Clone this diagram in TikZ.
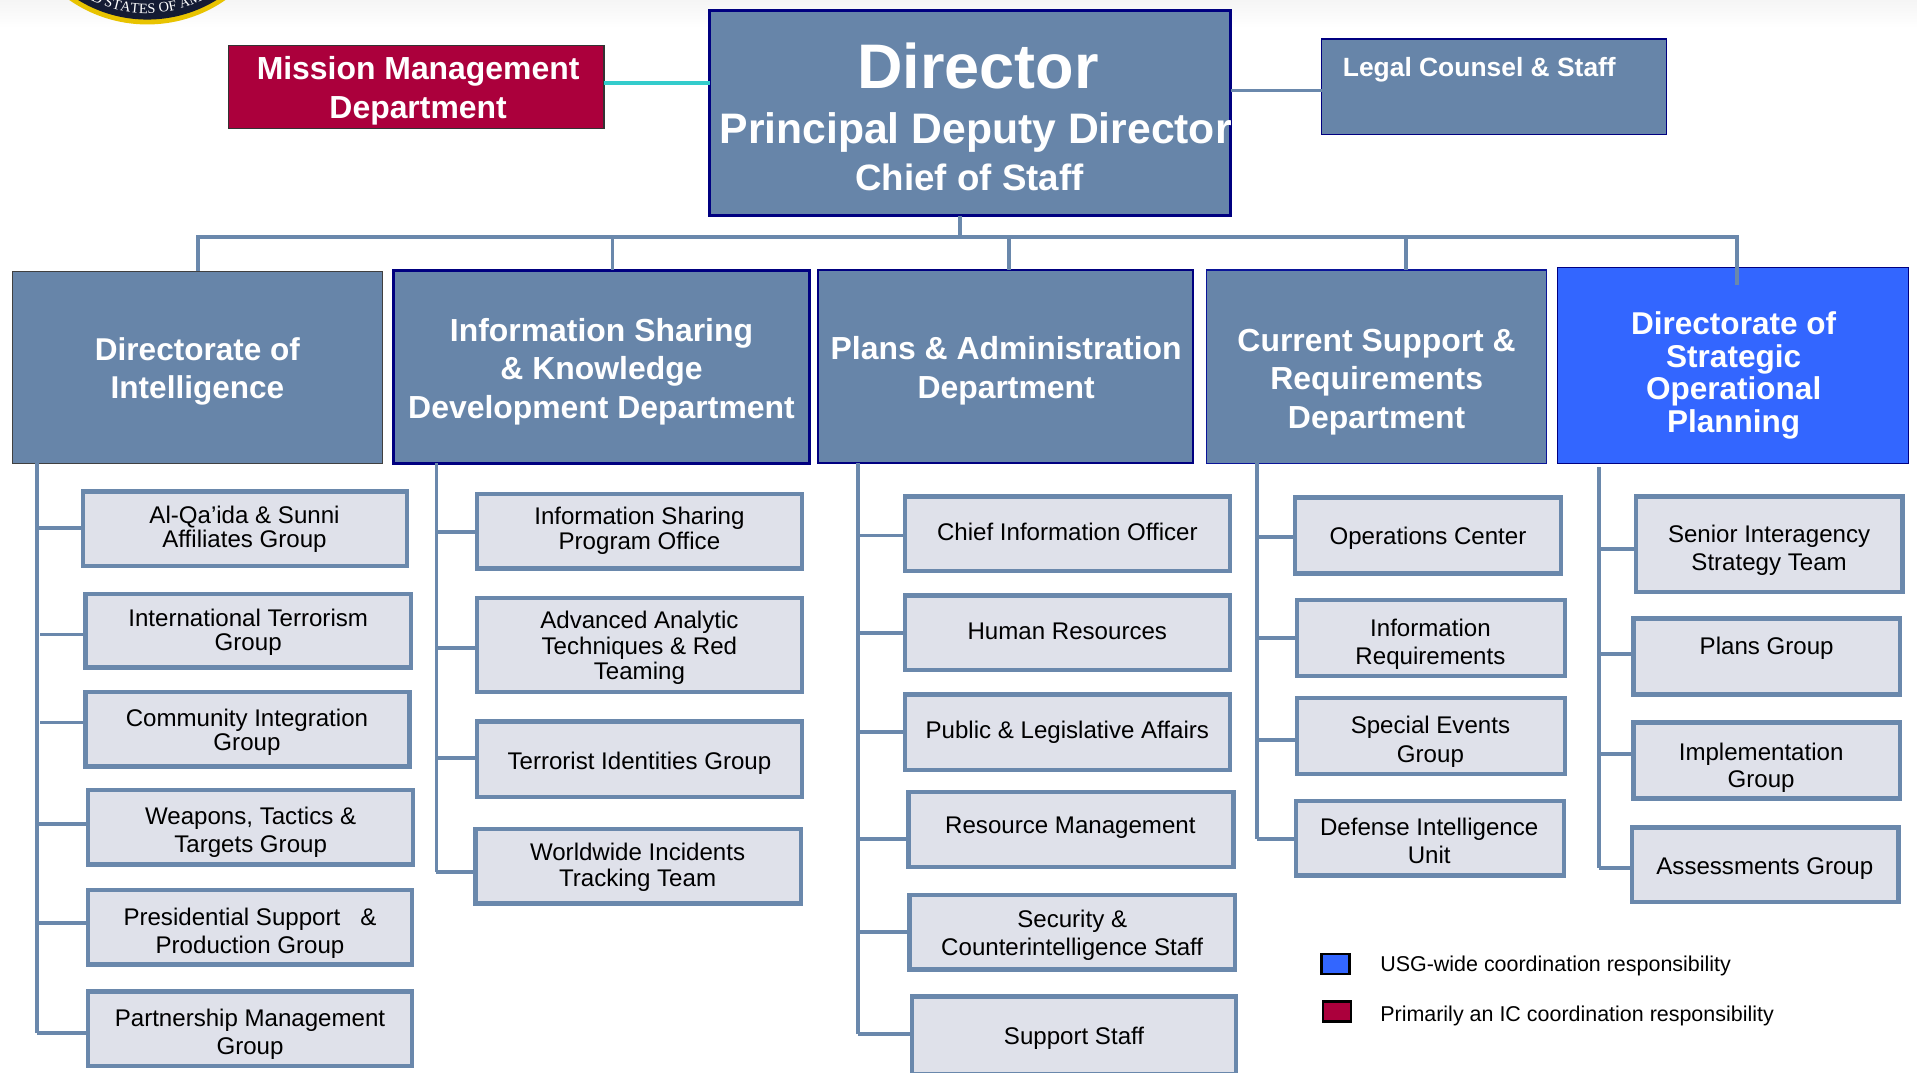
\documentclass[tikz,border=0pt]{standalone}
\usepackage{fontspec}
\setmainfont{Liberation Sans}
\newfontfamily\sealfont{Liberation Serif}
\usetikzlibrary{decorations.text}
\definecolor{steel}{HTML}{6785A9}
\definecolor{edge}{HTML}{6A88AC}
\definecolor{pale}{HTML}{DFE1EA}
\definecolor{navy}{HTML}{000080}
\definecolor{crim}{HTML}{AB003C}
\definecolor{brightblue}{HTML}{3366FF}
\definecolor{teal2}{HTML}{33CCCC}
\definecolor{gold}{HTML}{E8C300}
\definecolor{sealblue}{HTML}{141B33}
\newdimen\ftA \newdimen\ftB \newdimen\offd
\newcommand\ft[2]{\ftA=#1pt \ftA=0.6113\ftA \ftB=#2pt \ftB=0.6113\ftB \fontsize{\the\ftA}{\the\ftB}\selectfont}
% place text at an offset from the node centre, without changing the node's size
\newcommand\off[3]{\pgfmathsetlengthmacro\offx{2*(#1)*0.6113pt}\pgfmathsetlengthmacro\offy{(#2)*0.6113pt}%
  \setbox0=\hbox{#3}\offd=\dimexpr\offy-\ht0/2+\dp0/2\relax
  \makebox[0pt]{\hspace*{\offx}\raisebox{\offd}[0pt][0pt]{\box0}}}
\def\bxins{2}
\def\bx#1#2(#3,#4,#5,#6)(#7,#8)#9{%
  \node[#1,minimum width={(#5-#3-\bxins)*0.6113pt},minimum height={(#6-#4-\bxins)*0.6113pt}] (#2) at ({(#3+#5)/2},{(#4+#6)/2})
  {\off{#7-(#3+#5)/2}{(#4+#6)/2-#8-2.8}{\begin{tabular}{@{}c@{}}#9\end{tabular}}};}
\tikzset{
  base/.style={rectangle,inner sep=0pt,outer sep=0pt},
  subbox/.style={base,draw=edge,fill=pale,line width=2.2pt,text=black},
  subfont/.style={font=\ft{19.7}{#1}},
  headbox/.style={base,fill=steel,text=white},
  conn/.style={draw=edge,line width=1.9pt},
  legendbox/.style={base,draw=black,line width=1.2pt,minimum width=14pt,minimum height=10pt},
  legendtext/.style={base,anchor=west,text=black,font=\ft{17.55}{20}}
}
\begin{document}
\begin{tikzpicture}[x=0.6113pt,y=-0.6113pt]
\useasboundingbox (0,0) rectangle (1568,877.6);
\clip (0,0) rectangle (1568,877.6);
\shade[top color=black!4,bottom color=white] (0,0) rectangle (1568,23);
% seal
\coordinate (sealc) at (120.5,-92);
\fill[gold] (sealc) circle (112);
\fill[sealblue] (sealc) circle (108);
\path[decorate,decoration={text along path,text align=center,
  text={|\sealfont\fontsize{7.2}{8}\selectfont\color{white}|UNITED STATES OF AMERICA}}]
  (47.17,-19.17) arc[start angle=225,end angle=315,radius=62.97pt];
% top row
\def\bxins{0}
\node[headbox,draw=navy,line width=1.3pt,minimum width={426*0.6113pt},minimum height={168*0.6113pt}] (dir) at (793.5,92.5)
  {\off{6.5}{38.5}{\ft{51.5}{52}\bfseries Director}\off{4.5}{-16}{\ft{34.9}{34}\bfseries Principal Deputy Director}\off{-0.5}{-53}{\ft{30}{30}\bfseries Chief of Staff}};
\bx{base,fill=crim,draw=black!80,line width=0.6pt,text=white,font=\ft{26.1}{32}\bfseries}{mmd}(187,37,494,105)(342,72){Mission Management\\Department}
\bx{headbox,draw=navy,line width=0.7pt,font=\ft{21.6}{24}\bfseries}{legal}(1081,32,1363,110)(1210,55){Legal Counsel \& Staff}
% department row
\bx{headbox,draw=black!75,line width=0.7pt,font=\ft{25.8}{31}\bfseries}{di}(10,222,313,379)(161.5,301.5){Directorate of\\Intelligence}
\bx{headbox,draw=navy,line width=1.4pt,font=\ft{26.1}{31.5}\bfseries}{isk}(322,221,662,379)(492,301.5){Information Sharing\\\& Knowledge\\Development Department}
\bx{headbox,draw=navy,line width=1pt,font=\ft{26.1}{32}\bfseries}{pad}(669,221,976,379)(823,301){Plans \& Administration\\Department}
\bx{headbox,draw=navy!80!brightblue,line width=0.7pt,font=\ft{26.1}{31.5}\bfseries}{csr}(987,221,1265,379)(1126,309.5){Current Support \&\\Requirements\\Department}
\bx{base,fill=brightblue,draw=navy,line width=0.7pt,text=white,font=\ft{25.8}{26.8}\bfseries}{dsop}(1274,219,1561,379)(1418,305.5){Directorate of\\Strategic\\Operational\\Planning}
% sub boxes
\def\bxins{2}
\bx{subbox,subfont=20}{a1}(67,401,334,464)(200,431){Al-Qa’ida \& Sunni\\Affiliates Group}
\bx{subbox,subfont=19.5}{a2}(69,485,337,547)(203,515.5){International Terrorism\\Group}
\bx{subbox,subfont=20}{a3}(69,565,336,628)(202,597){Community Integration\\Group}
\bx{subbox,subfont=23}{a4}(71,645,339,708)(205,678.5){Weapons, Tactics \&\\Targets Group}
\bx{subbox,subfont=22.5}{a5}(71,727,338,790)(204.5,761){Presidential Support\ \ \ \&\\Production Group}
\bx{subbox,subfont=23}{a6}(71,810,338,873)(204.5,843.5){Partnership Management\\Group}
\bx{subbox,subfont=20}{b1}(389,403,657,466)(523,432){Information Sharing\\Program Office}
\bx{subbox,subfont=21}{b2}(389,488,657,567)(523,528){Advanced Analytic\\Techniques \& Red\\Teaming}
\bx{subbox,subfont=21}{b3}(389,589,657,653)(523,622){Terrorist Identities Group}
\bx{subbox,subfont=21}{b4}(388,677,656,740)(521.5,707.5){Worldwide Incidents\\Tracking Team}
\bx{subbox,subfont=21}{c1}(739,405,1007,468)(873,435){Chief Information Officer}
\bx{subbox,subfont=21}{c2}(739,486,1007,549)(873,516){Human Resources}
\bx{subbox,subfont=21}{c3}(739,567,1007,631)(873,597){Public \& Legislative Affairs}
\bx{subbox,subfont=21}{c4}(742,647,1010,710)(875.5,675){Resource Management}
\bx{subbox,subfont=23}{c5}(743,731,1011,794)(877,762.5){Security \&\\Counterintelligence Staff}
\bx{subbox,subfont=21}{c6}(745,814,1012,880)(878.5,847){Support Staff}
\bx{subbox,subfont=21}{d1}(1058,406,1278,470)(1168,438){Operations Center}
\bx{subbox,subfont=23}{d2}(1060,490,1281,554)(1170,524.5){Information\\Requirements}
\bx{subbox,subfont=24}{d3}(1060,570,1281,634)(1170,604){Special Events\\Group}
\bx{subbox,subfont=23}{d4}(1059,654,1280,717)(1169,687.5){Defense Intelligence\\Unit}
\bx{subbox,subfont=23}{e1}(1337,405,1557,485)(1447,447.5){Senior Interagency\\Strategy Team}
\bx{subbox,subfont=21}{e2}(1335,505,1555,569)(1445,528){Plans Group}
\bx{subbox,subfont=22}{e3}(1335,590,1555,654)(1440.5,626){Implementation\\Group}
\bx{subbox,subfont=21}{e4}(1334,676,1554,739)(1443.5,708){Assessments Group}
% legend
\node[legendbox,fill=brightblue] (lg1) at (1092.5,788.5) {};
\node[legendbox,fill=crim] (lg2) at (1093.5,827.5) {};
\node[legendtext] (lt1) at (1129,790) {USG-wide coordination responsibility};
\node[legendtext] (lt2) at (1129,831) {Primarily an IC coordination responsibility};
% connectors: director level
\draw[conn,draw=teal2] (mmd.east |- 0,68) -- (dir.west |- 0,68);
\draw[conn] (dir.east |- 0,74) -- (legal.west |- 0,74);
\coordinate (bus0) at (785,194);
\coordinate (bus1) at (162,194);
\coordinate (bus2) at (501,194);
\coordinate (bus3) at (825,194);
\coordinate (bus4) at (1150,194);
\coordinate (bus5) at (1421,194);
\coordinate (bus5end) at (1421,233);
\draw[conn] (dir.south -| bus0) -- (bus0);
\draw[conn] (bus1 |- di.north) -- (bus1) -- (bus5) -- (bus5end);
\draw[conn] (bus2) -- (bus2 |- isk.north);
\draw[conn] (bus3) -- (bus3 |- pad.north);
\draw[conn] (bus4) -- (bus4 |- csr.north);
% trunks
\coordinate (t1) at (30,845);
\coordinate (t2) at (357,713);
\coordinate (t3) at (702,846);
\coordinate (t4) at (1028,686);
\coordinate (t5) at (1308,710);
\draw[conn] (t1 |- di.south) -- (t1);
\draw[conn] (t2 |- isk.south) -- (t2);
\draw[conn] (t3 |- pad.south) -- (t3);
\draw[conn] (t4 |- csr.south) -- (t4);
\draw[conn] (1308,382) -- (t5);
% branches
\foreach \n/\y in {a1/432,a4/674,a5/755,a6/845}{\coordinate (p) at (30,\y); \draw[conn] (p) -- (p -| \n.west);}
\foreach \n/\y in {a2/519,a3/591}{\coordinate (p) at (33,\y); \draw[conn] (p) -- (p -| \n.west);}
\foreach \n/\y in {b1/435,b2/530,b3/620,b4/713}{\coordinate (p) at (357,\y); \draw[conn] (p) -- (p -| \n.west);}
\foreach \n/\y in {c1/438,c2/518,c3/599,c4/686,c5/762,c6/846}{\coordinate (p) at (702,\y); \draw[conn] (p) -- (p -| \n.west);}
\foreach \n/\y in {d1/439,d2/522,d3/605,d4/686}{\coordinate (p) at (1028,\y); \draw[conn] (p) -- (p -| \n.west);}
\foreach \n/\y in {e1/449,e2/535,e3/617,e4/710}{\coordinate (p) at (1308,\y); \draw[conn] (p) -- (p -| \n.west);}
\end{tikzpicture}
\end{document}
